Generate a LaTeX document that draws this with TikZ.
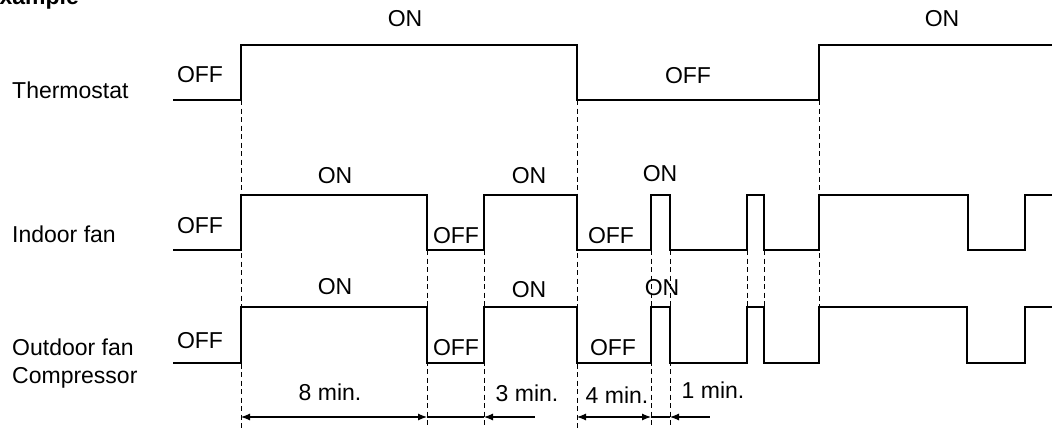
\documentclass[tikz,border=0pt]{standalone}
\usepackage{fontspec}
\setmainfont{Liberation Sans}
\usetikzlibrary{arrows.meta}

\tikzset{
  sig/.style={line width=2.6pt},
  guide/.style={line width=0.9pt, dash pattern=on 5pt off 3.5pt},
  dim/.style={line width=1.1pt},
  txt/.style={inner sep=0pt, anchor=base, font=\fontsize{23}{27}\selectfont},
}

\begin{document}
\begin{tikzpicture}[x=1pt,y=1pt,yscale=-1,xscale=1,>={Latex[length=9pt,width=7pt]}]
\useasboundingbox (0,0) rectangle (1052,428);

% dashed guides
\foreach \gx/\ya/\yb in {241/100/428, 427/250/428, 484/250/428, 577/100/428, 651/250/428, 670/250/428, 747/250/307, 764/250/307, 819/100/307}
  \draw [guide] (\gx,\ya) -- (\gx,\yb);

% signals
\draw [sig] (173,100) -| (241,45) -| (577,100) -| (819,45) -- (1052,45);
\draw [sig] (173,250) -| (241,195) -| (427,250) -| (484,195) -| (577,250) -| (651,195) -| (670,250) -| (747,195) -| (764,250) -| (819,195) -| (968,250) -| (1025,195) -- (1052,195);
\draw [sig] (173,363) -| (241,307) -| (427,363) -| (484,307) -| (577,363) -| (651,307) -| (670,363) -| (747,307) -| (764,363) -| (819,307) -| (967,363) -| (1025,307) -- (1052,307);

% time marks
\coordinate (d0) at (241,417);
\coordinate (d1) at (427,417);
\coordinate (d2) at (484,417);
\coordinate (d2e) at (535,417);
\coordinate (d3) at (577,417);
\coordinate (d4) at (651,417);
\coordinate (d5) at (670,417);
\coordinate (d5e) at (710,417);

\draw [dim,<->] (d0) -- (d1);
\draw [dim] (d1) -- (d2);
\draw [dim,<-] (d2) -- (d2e);
\draw [dim,<->] (d3) -- (d4);
\draw [dim] (d4) -- (d5);
\draw [dim,<-] (d5) -- (d5e);

% labels
\node [txt, anchor=base west, font=\bfseries\fontsize{23}{27}\selectfont] (title) at (-16,5) {Example};
\node [txt, anchor=base west] (thermo) at (12,98) {Thermostat};
\node [txt, anchor=base west] (indoor) at (12,242) {Indoor fan};
\node [txt, anchor=base west] (outdoor) at (12,355) {Outdoor fan};
\node [txt, anchor=base west] (comp) at (12,383) {Compressor};

\node [txt] (thoff1) at (200,82) {OFF};
\node [txt] (thon1) at (405,27) {ON};
\node [txt] (thoff2) at (688,84) {OFF};
\node [txt] (thon2) at (942,27) {ON};

\node [txt] (inoff1) at (200,233) {OFF};
\node [txt] (inon1) at (335,183) {ON};
\node [txt] (inoff2) at (456,243) {OFF};
\node [txt] (inon2) at (529,183) {ON};
\node [txt] (inoff3) at (611,243) {OFF};
\node [txt] (inon3) at (660,181) {ON};

\node [txt] (outoff1) at (200,348) {OFF};
\node [txt] (outon1) at (335,294) {ON};
\node [txt] (outoff2) at (456,355) {OFF};
\node [txt] (outon2) at (529,297) {ON};
\node [txt] (outoff3) at (613,355) {OFF};
\node [txt] (outon3) at (662,295) {ON};

\node [txt] (t8) at (330,400) {8 min.};
\node [txt] (t3) at (527,401) {3 min.};
\node [txt] (t4) at (617,403) {4 min.};
\node [txt] (t1) at (713,398) {1 min.};
\end{tikzpicture}
\end{document}
